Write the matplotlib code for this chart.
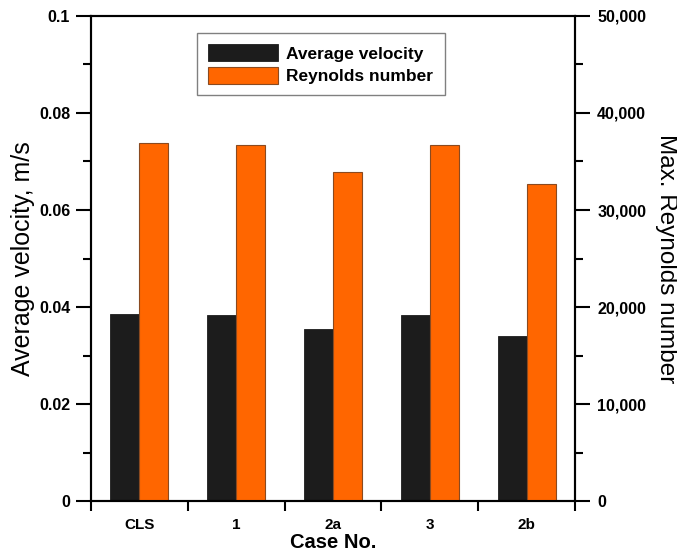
import matplotlib
matplotlib.use('Agg')
import matplotlib.pyplot as plt
import numpy as np
from matplotlib.ticker import MultipleLocator, FuncFormatter

cases = ['CLS', '1', '2a', '3', '2b']
avg_velocity = [0.0385, 0.0383, 0.0354, 0.0383, 0.0341]
reynolds = [36900, 36750, 33950, 36700, 32700]

plt.rcParams['font.family'] = ['Liberation Sans', 'DejaVu Sans']

fig = plt.figure(figsize=(6.77, 5.57), dpi=100)
ax = fig.add_axes([0.1344, 0.1005, 0.7149, 0.8708])
ax2 = ax.twinx()

x = np.arange(len(cases))
w = 0.3
b1 = ax.bar(x - w / 2, avg_velocity, w, color='#1c1c1c', edgecolor='#1c1c1c',
            linewidth=0.6, label='Average velocity')
b2 = ax2.bar(x + w / 2, reynolds, w, color='#ff6600', edgecolor='#8a4a20',
             linewidth=0.8, label='Reynolds number')

ax.set_xlim(-0.5, len(cases) - 0.5)
ax.set_ylim(0, 0.1)
ax2.set_ylim(0, 50000)

# left axis ticks
ax.yaxis.set_major_locator(MultipleLocator(0.02))
ax.yaxis.set_minor_locator(MultipleLocator(0.01))
ax.yaxis.set_major_formatter(FuncFormatter(lambda v, p: '{:g}'.format(round(v, 3))))
# right axis ticks
ax2.yaxis.set_major_locator(MultipleLocator(10000))
ax2.yaxis.set_minor_locator(MultipleLocator(5000))
ax2.yaxis.set_major_formatter(FuncFormatter(lambda v, p: '{:,}'.format(int(v))))

# x: labels at centres, marks at group boundaries
ax.set_xticks(x)
ax.set_xticklabels(cases)
ax.set_xticks(np.arange(-0.5, len(cases), 1.0), minor=True)
ax.tick_params(axis='x', which='major', length=0, pad=12, labelsize=11)
ax.tick_params(axis='x', which='minor', direction='out', length=7, width=1.5)
ax.tick_params(axis='y', which='major', direction='out', length=11, width=1.5, labelsize=11.5, pad=4)
ax.tick_params(axis='y', which='minor', direction='out', length=5.5, width=1.5)
ax2.tick_params(axis='y', which='major', direction='out', length=11, width=1.5, labelsize=11.5, pad=5)
ax2.tick_params(axis='y', which='minor', direction='out', length=5.5, width=1.5)
ax2.tick_params(axis='x', which='both', length=0)

for a in (ax, ax2):
    for s in a.spines.values():
        s.set_linewidth(1.5)
    for lbl in a.get_xticklabels() + a.get_yticklabels():
        lbl.set_fontweight('bold')

ax.set_ylabel('Average velocity, m/s', fontsize=18, labelpad=3)
ax2.set_ylabel('Max. Reynolds number', fontsize=17.5, rotation=270, labelpad=22)
ax.set_xlabel('Case No.', fontsize=14.5, fontweight='bold', labelpad=1)

leg = ax2.legend([b1, b2], ['Average velocity', 'Reynolds number'],
                 loc='upper left', bbox_to_anchor=(0.219, 0.965), borderaxespad=0,
                 fancybox=False, edgecolor='#808080', framealpha=1,
                 prop={'weight': 'bold', 'size': 12.5},
                 handlelength=4.0, handleheight=1.15, labelspacing=0.28,
                 handletextpad=0.5, borderpad=0.65)
leg.get_frame().set_linewidth(1.0)

fig.savefig('out.png', dpi=100)
